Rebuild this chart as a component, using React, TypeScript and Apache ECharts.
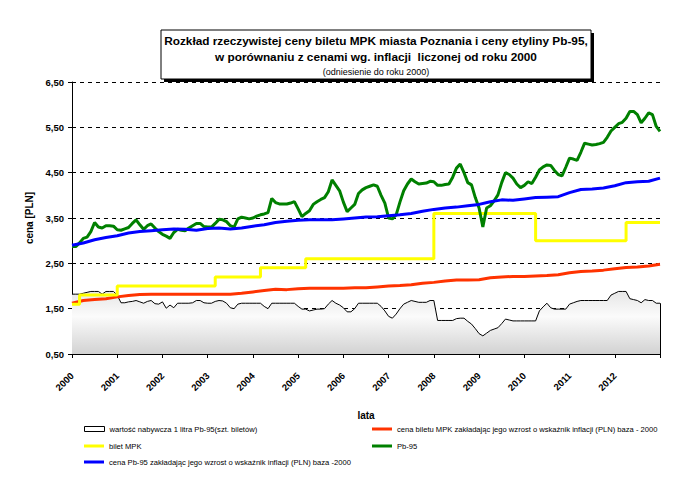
import { useEffect, useRef } from 'react';
import * as echarts from 'echarts';

// ---------- data ----------
const YEAR_LABELS = ['2000', '2001', '2002', '2003', '2004', '2005', '2006', '2007', '2008', '2009', '2010', '2011', '2012'];

const TITLE_LINES = [
  'Rozkład rzeczywistej ceny biletu MPK miasta Poznania i ceny etyliny Pb-95,',
  'w porównaniu z cenami wg. inflacji  liczonej od roku 2000',
  '(odniesienie do roku 2000)',
];

const NAME_GREY = 'wartość nabywcza 1 litra Pb-95(szt. biletów)';
const NAME_RED = 'cena biletu MPK zakładając jego wzrost o wskaźnik inflacji (PLN) baza - 2000';
const NAME_YELLOW = 'bilet MPK';
const NAME_GREEN = 'Pb-95';
const NAME_BLUE = 'cena Pb-95 zakładając jego wzrost o wskaźnik inflacji (PLN) baza -2000';

// monthly values, Jan 2000 .. Jan 2013
const PB95_MONTHLY = [
  2.87, 2.87, 2.95, 3.05, 3.08, 3.20, 3.40, 3.30, 3.28, 3.33,
  3.33, 3.32, 3.24, 3.23, 3.26, 3.29, 3.38, 3.46, 3.35, 3.25,
  3.33, 3.37, 3.28, 3.20, 3.14, 3.10, 3.05, 3.18, 3.25, 3.23,
  3.22, 3.28, 3.33, 3.38, 3.38, 3.31, 3.30, 3.30, 3.38, 3.47,
  3.46, 3.42, 3.33, 3.30, 3.48, 3.52, 3.50, 3.48, 3.50, 3.54,
  3.57, 3.59, 3.62, 3.93, 3.84, 3.81, 3.81, 3.81, 3.83, 3.86,
  3.70, 3.53, 3.60, 3.66, 3.80, 3.86, 3.91, 3.95, 4.08, 4.34,
  4.22, 4.10, 3.85, 3.64, 3.72, 3.80, 4.04, 4.12, 4.17, 4.20,
  4.23, 4.20, 4.00, 3.83, 3.50, 3.48, 3.57, 3.85, 4.10, 4.25,
  4.36, 4.30, 4.25, 4.26, 4.27, 4.31, 4.30, 4.22, 4.22, 4.24,
  4.25, 4.40, 4.60, 4.69, 4.50, 4.28, 4.23, 3.95, 3.72, 3.30,
  3.72, 3.77, 3.88, 4.01, 4.28, 4.50, 4.46, 4.38, 4.25, 4.17,
  4.22, 4.30, 4.26, 4.40, 4.56, 4.63, 4.67, 4.66, 4.55, 4.46,
  4.43, 4.62, 4.82, 4.80, 4.77, 4.95, 5.15, 5.13, 5.11, 5.12,
  5.14, 5.17, 5.28, 5.42, 5.50, 5.58, 5.61, 5.70, 5.85, 5.85,
  5.78, 5.60, 5.70, 5.82, 5.78, 5.52, 5.41,
];

const PURCHASE_MONTHLY = [
  1.82, 1.82, 1.82, 1.84, 1.86, 1.88, 1.88, 1.88, 1.82, 1.88,
  1.88, 1.88, 1.80, 1.63, 1.63, 1.65, 1.66, 1.68, 1.65, 1.62,
  1.66, 1.68, 1.61, 1.60, 1.65, 1.51, 1.58, 1.52, 1.62, 1.62,
  1.62, 1.62, 1.63, 1.68, 1.68, 1.63, 1.62, 1.62, 1.66, 1.68,
  1.67, 1.62, 1.52, 1.50, 1.60, 1.62, 1.62, 1.62, 1.62, 1.62,
  1.62, 1.55, 1.50, 1.62, 1.62, 1.62, 1.62, 1.62, 1.62, 1.62,
  1.55, 1.49, 1.49, 1.45, 1.47, 1.49, 1.49, 1.50, 1.60, 1.68,
  1.62, 1.58, 1.52, 1.43, 1.43, 1.50, 1.62, 1.62, 1.62, 1.62,
  1.62, 1.62, 1.55, 1.45, 1.33, 1.29, 1.38, 1.50, 1.60, 1.64,
  1.68, 1.66, 1.64, 1.64, 1.64, 1.68, 1.68, 1.24, 1.24, 1.24,
  1.24, 1.24, 1.28, 1.29, 1.29, 1.22, 1.16, 1.06, 0.95, 0.90,
  0.96, 1.02, 1.05, 1.08, 1.17, 1.27, 1.25, 1.23, 1.23, 1.23,
  1.23, 1.23, 1.23, 1.23, 1.45, 1.54, 1.62, 1.52, 1.49, 1.49,
  1.49, 1.49, 1.60, 1.63, 1.66, 1.68, 1.68, 1.68, 1.68, 1.68,
  1.68, 1.68, 1.68, 1.80, 1.84, 1.88, 1.88, 1.88, 1.72, 1.70,
  1.68, 1.63, 1.70, 1.68, 1.68, 1.62, 1.62,
];

// quarterly values (every 3 months), Jan 2000 .. Jan 2013
const PB95_INFLATION_QUARTERLY = [
  2.90, 2.95, 3.02, 3.07, 3.11, 3.17, 3.20, 3.22, 3.24, 3.26,
  3.25, 3.23, 3.27, 3.28, 3.26, 3.28, 3.32, 3.35, 3.40, 3.43,
  3.45, 3.46, 3.46, 3.46, 3.48, 3.50, 3.52, 3.53, 3.55, 3.57,
  3.60, 3.65, 3.69, 3.72, 3.74, 3.77, 3.80, 3.86, 3.90, 3.89,
  3.92, 3.95, 3.96, 3.97, 4.06, 4.13, 4.14, 4.16, 4.21, 4.28,
  4.30, 4.31, 4.38,
];

const TICKET_INFLATION_QUARTERLY = [
  1.62, 1.68, 1.70, 1.72, 1.76, 1.79, 1.81, 1.82, 1.82, 1.82,
  1.82, 1.82, 1.82, 1.82, 1.82, 1.84, 1.87, 1.90, 1.93, 1.92,
  1.94, 1.95, 1.95, 1.95, 1.95, 1.96, 1.96, 1.98, 2.00, 2.01,
  2.03, 2.06, 2.08, 2.11, 2.13, 2.13, 2.14, 2.18, 2.20, 2.21,
  2.21, 2.22, 2.23, 2.25, 2.29, 2.32, 2.33, 2.35, 2.38, 2.41,
  2.42, 2.44, 2.48,
];

// ticket price changes: month index (0 = Jan 2000) and new price
const TICKET_CHANGE_MONTHS = [0, 2, 12, 38, 50, 62, 96, 123, 147, 156];
const TICKET_PRICES = [1.6, 1.8, 2.0, 2.2, 2.4, 2.6, 3.6, 3.0, 3.4, 3.4];

const FONT = 'Arial, "Liberation Sans", sans-serif';

export default function App() {
  const ref = useRef<HTMLDivElement>(null);

  useEffect(() => {
    const chart = echarts.init(ref.current!, null, { renderer: 'svg' });
    const lastMonth = (PB95_MONTHLY.length - 1);

    const legendBase = {
      padding: 0,
      selectedMode: false,
      itemWidth: 20,
      orient: 'horizontal',
      textStyle: { fontSize: 7.6, color: '#000', fontFamily: FONT, lineHeight: 8 },
    };

    const option: any = {
      animation: false,
      backgroundColor: '#fff',
      textStyle: { fontFamily: FONT },
      grid: { left: 72, right: 29, top: 82, bottom: 136, containLabel: false },
      xAxis: [
        {
          type: 'value',
          min: 0,
          max: lastMonth,
          interval: 12,
          name: 'lata',
          nameLocation: 'middle',
          nameGap: 56,
          nameTextStyle: { fontWeight: 'bold', fontSize: 10, color: '#000', fontFamily: FONT },
          axisLine: { lineStyle: { color: '#000', width: 1 } },
          axisTick: { show: true, length: 4, lineStyle: { color: '#000' } },
          splitLine: { show: false },
          axisLabel: {
            rotate: 45,
            margin: 20,
            fontSize: 9.5,
            fontWeight: 'bold',
            color: '#000',
            fontFamily: FONT,
            showMaxLabel: true,
            formatter: (v: number) => YEAR_LABELS[Math.round(v / 12)] ?? '',
          },
        },
        {
          type: 'value',
          position: 'bottom',
          min: 0,
          max: lastMonth,
          interval: 12,
          axisLine: { show: false },
          axisTick: { show: true, inside: true, length: 3, lineStyle: { color: '#000' } },
          axisLabel: { show: false },
          splitLine: { show: false },
        },
      ],
      yAxis: [
        {
          type: 'value',
          min: 0.5,
          max: 6.5,
          interval: 1,
          name: 'cena [PLN]',
          nameLocation: 'middle',
          nameGap: 38,
          nameTextStyle: { fontWeight: 'bold', fontSize: 10, color: '#000', fontFamily: FONT },
          axisLine: { show: true, lineStyle: { color: '#000', width: 1 } },
          axisTick: { show: true, length: 4, lineStyle: { color: '#000' } },
          axisLabel: {
            margin: 8,
            fontSize: 9.5,
            fontWeight: 'bold',
            color: '#000',
            fontFamily: FONT,
            formatter: (v: number) => v.toFixed(2).replace('.', ','),
          },
          splitLine: { show: true, lineStyle: { color: '#000', width: 1, type: [4, 4] } },
        },
        {
          type: 'value',
          position: 'left',
          min: 0.5,
          max: 6.5,
          interval: 1,
          axisLine: { show: false },
          axisTick: { show: true, inside: true, length: 3, lineStyle: { color: '#000' } },
          axisLabel: { show: false },
          splitLine: { show: false },
        },
      ],
      legend: [
        { ...legendBase, left: 84, top: 425, itemHeight: 5,
          data: [{ name: NAME_GREY, icon: 'rect', itemStyle: { color: '#fff', borderColor: '#000', borderWidth: 1 } }] },
        { ...legendBase, left: 84, top: 442, itemHeight: 3,
          data: [{ name: NAME_YELLOW, icon: 'rect', itemStyle: { color: '#ffff00' } }] },
        { ...legendBase, left: 84, top: 458, itemHeight: 3,
          data: [{ name: NAME_BLUE, icon: 'rect', itemStyle: { color: '#0000ff' } }] },
        { ...legendBase, left: 372, top: 425, itemHeight: 3,
          data: [{ name: NAME_RED, icon: 'rect', itemStyle: { color: '#ff3300' } }] },
        { ...legendBase, left: 372, top: 442, itemHeight: 3,
          data: [{ name: NAME_GREEN, icon: 'rect', itemStyle: { color: '#008000' } }] },
      ],
      graphic: [
        { type: 'rect', z: 100, shape: { x: 164, y: 33, width: 430, height: 49 }, style: { fill: '#000' }, silent: true },
        { type: 'rect', z: 101, shape: { x: 161, y: 30, width: 430, height: 49 }, style: { fill: '#fff', stroke: '#000', lineWidth: 1 }, silent: true },
        { type: 'text', z: 102, x: 376, y: 41, silent: true,
          style: { text: TITLE_LINES[0], align: 'center', verticalAlign: 'middle', fontSize: 11.8, fontWeight: 'bold', fontFamily: FONT, fill: '#000' } },
        { type: 'text', z: 102, x: 376, y: 57, silent: true,
          style: { text: TITLE_LINES[1], align: 'center', verticalAlign: 'middle', fontSize: 11.8, fontWeight: 'bold', fontFamily: FONT, fill: '#000' } },
        { type: 'text', z: 102, x: 376, y: 72, silent: true,
          style: { text: TITLE_LINES[2], align: 'center', verticalAlign: 'middle', fontSize: 9, fontFamily: FONT, fill: '#000' } },
      ],
      series: [
        {
          name: NAME_GREY,
          type: 'line',
          z: 1,
          symbol: 'none',
          data: PURCHASE_MONTHLY.map((v, i) => [i, v]),
          lineStyle: { color: '#000', width: 1 },
          itemStyle: { color: '#000' },
          areaStyle: {
            opacity: 1,
            color: new echarts.graphic.LinearGradient(0, 0, 0, 1, [
              { offset: 0, color: '#e6e6e6' },
              { offset: 0.4, color: '#fbfbfb' },
              { offset: 1, color: '#d2d2d2' },
            ]),
          },
          markLine: {
            silent: true,
            symbol: ['none', 'none'],
            label: { show: false },
            lineStyle: { color: '#000', width: 1, type: 'solid' },
            data: [[
              { coord: [lastMonth, 0.5] },
              { coord: [lastMonth, PURCHASE_MONTHLY[PURCHASE_MONTHLY.length - 1]] },
            ]],
          },
        },
        {
          name: NAME_RED,
          type: 'line',
          z: 2,
          symbol: 'none',
          data: TICKET_INFLATION_QUARTERLY.map((v, i) => [i * 3, v]),
          lineStyle: { color: '#ff3300', width: 3 },
          itemStyle: { color: '#ff3300' },
        },
        {
          name: NAME_YELLOW,
          type: 'line',
          z: 3,
          symbol: 'none',
          step: 'end',
          data: TICKET_CHANGE_MONTHS.map((m, i) => [m, TICKET_PRICES[i]]),
          lineStyle: { color: '#ffff00', width: 3 },
          itemStyle: { color: '#ffff00' },
        },
        {
          name: NAME_GREEN,
          type: 'line',
          z: 4,
          symbol: 'none',
          data: PB95_MONTHLY.map((v, i) => [i, v]),
          lineStyle: { color: '#008000', width: 3 },
          itemStyle: { color: '#008000' },
        },
        {
          name: NAME_BLUE,
          type: 'line',
          z: 5,
          symbol: 'none',
          data: PB95_INFLATION_QUARTERLY.map((v, i) => [i * 3, v]),
          lineStyle: { color: '#0000ff', width: 3 },
          itemStyle: { color: '#0000ff' },
        },
      ],
    };

    chart.setOption(option);
    return () => chart.dispose();
  }, []);

  return <div ref={ref} style={{ position: 'fixed', left: 0, top: 0, width: 689, height: 490 }} />;
}
